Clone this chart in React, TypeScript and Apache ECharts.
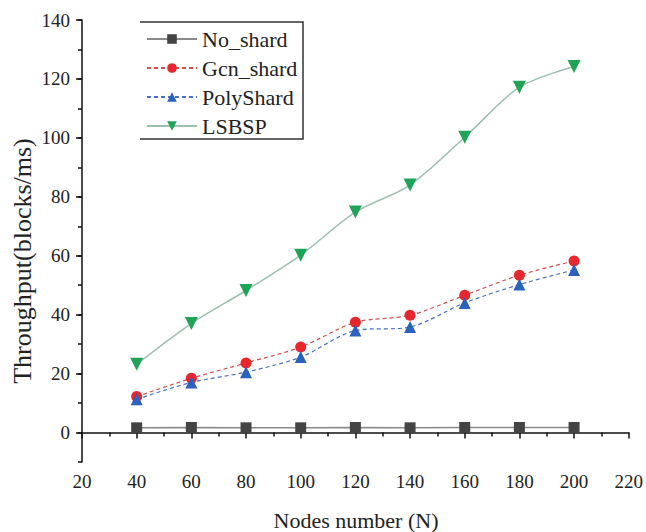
import React, { useEffect, useRef } from "react";
import * as echarts from "echarts";

const nodes = [40, 60, 80, 100, 120, 140, 160, 180, 200];
const noShard = [1.6, 1.7, 1.6, 1.6, 1.7, 1.6, 1.7, 1.7, 1.7];
const gcnShard = [12.2, 18.4, 23.6, 29.0, 37.4, 39.8, 46.6, 53.4, 58.2];
const polyShard = [11.3, 17.0, 20.5, 25.6, 34.6, 35.8, 44.0, 50.2, 55.2];
const lsbsp = [23.2, 37.0, 48.2, 60.2, 74.8, 84.0, 100.2, 117.2, 124.2];
const yTicks = [0, 20, 40, 60, 80, 100, 120, 140];
const seriesNames = ["No_shard", "Gcn_shard", "PolyShard", "LSBSP"];

const FONT = "Liberation Serif";

export default function App() {
  const ref = useRef<HTMLDivElement>(null);
  useEffect(() => {
    if (!ref.current) return;
    const chart = echarts.init(ref.current, null, { renderer: "svg" });
    const pairs = (vals: number[]) => nodes.map((n, i) => [n, vals[i]]);
    chart.setOption({
      animation: false,
      backgroundColor: "#fff",
      grid: { left: 82, right: 13, top: 20, bottom: 70 },
      legend: {
        orient: "vertical",
        left: 141,
        top: 23,
        itemWidth: 50,
        itemHeight: 12,
        itemGap: 7,
        data: seriesNames,
        textStyle: { fontFamily: FONT, fontSize: 22, color: "#222", lineHeight: 19 },
      },
      graphic: [
        {
          type: "polyline",
          shape: { points: [[140, 22], [303, 22], [303, 139], [140, 139]] },
          style: { stroke: "#333", lineWidth: 1.5, fill: null },
        },
        {
          type: "text",
          x: 356,
          y: 520,
          style: {
            text: "Nodes number (N)",
            fontFamily: FONT,
            fontSize: 22,
            fill: "#222",
            align: "center",
            verticalAlign: "middle",
          },
        },
        {
          type: "text",
          x: 22,
          y: 261,
          rotation: Math.PI / 2,
          style: {
            text: "Throughput(blocks/ms)",
            fontFamily: FONT,
            fontSize: 26,
            fill: "#222",
            align: "center",
            verticalAlign: "middle",
          },
        },
      ],
      xAxis: {
        type: "value",
        min: 20,
        max: 220,
        interval: 20,
        splitLine: { show: false },
        axisLine: { lineStyle: { color: "#111", width: 1.5 } },
        axisTick: { length: 6, lineStyle: { color: "#111", width: 1.5 } },
        minorTick: { show: true, splitNumber: 2, length: 4, lineStyle: { color: "#111", width: 1.5 } },
        axisLabel: { fontFamily: FONT, fontSize: 19, color: "#222", margin: 10 },
      },
      yAxis: [
        {
          type: "value",
          min: -10,
          max: 140,
          splitLine: { show: false },
          axisLine: { show: true, lineStyle: { color: "#111", width: 1.5 } },
          axisTick: { show: true, length: 6, customValues: yTicks, lineStyle: { color: "#111", width: 1.5 } },
          axisLabel: { fontFamily: FONT, fontSize: 19, color: "#222", margin: 12, customValues: yTicks },
        },
        {
          type: "value",
          min: -10,
          max: 140,
          interval: 10,
          position: "left",
          splitLine: { show: false },
          axisLine: { show: false },
          axisTick: { show: true, length: 4, lineStyle: { color: "#111", width: 1.5 } },
          axisLabel: { show: false },
        },
      ],
      series: [
        {
          name: "No_shard",
          type: "line",
          data: pairs(noShard),
          symbol: "rect",
          symbolSize: 11,
          itemStyle: { color: "#444" },
          lineStyle: { color: "#8a8a8a", width: 1.5 },
        },
        {
          name: "Gcn_shard",
          type: "line",
          data: pairs(gcnShard),
          symbol: "circle",
          symbolSize: 11,
          smooth: 0.3,
          itemStyle: { color: "#e8262d" },
          lineStyle: { color: "#d05050", width: 1.2, type: [4, 3] },
        },
        {
          name: "PolyShard",
          type: "line",
          data: pairs(polyShard),
          symbol: "triangle",
          symbolSize: 12,
          smooth: 0.3,
          itemStyle: { color: "#2b62bd" },
          lineStyle: { color: "#4a70c0", width: 1.2, type: [4, 3] },
        },
        {
          name: "LSBSP",
          type: "line",
          data: pairs(lsbsp),
          symbol: "triangle",
          symbolRotate: 180,
          symbolSize: 13,
          smooth: 0.3,
          itemStyle: { color: "#1fa356" },
          lineStyle: { color: "#9dbfae", width: 1.5 },
        },
      ],
    });
    return () => chart.dispose();
  }, []);
  return <div ref={ref} style={{ width: 646, height: 532, position: "absolute", left: 0, top: 0 }} />;
}
